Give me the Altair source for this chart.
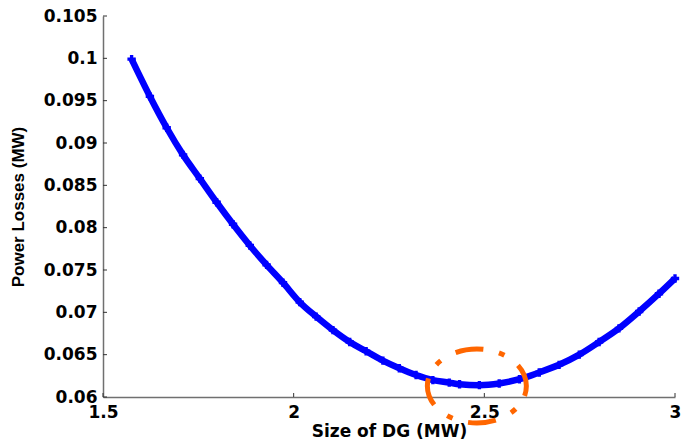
import altair as alt
import pandas as pd

# Curve
dg_size = [1.575, 1.623, 1.667, 1.710, 1.754, 1.798, 1.841, 1.885, 1.929, 1.972,
           2.016, 2.059, 2.103, 2.147, 2.190, 2.234, 2.277, 2.321, 2.365, 2.408,
           2.435, 2.487, 2.539, 2.592, 2.644, 2.696, 2.749, 2.801, 2.853, 2.906,
           2.958, 3.000]
power_loss = [0.0999, 0.0955, 0.0918, 0.0886, 0.0858, 0.0830, 0.0804, 0.0779, 0.0756, 0.0735,
              0.0712, 0.0695, 0.0679, 0.0665, 0.0654, 0.0643, 0.0634, 0.0626, 0.0620, 0.0617,
              0.0615, 0.0614, 0.0616, 0.0621, 0.0629, 0.0638, 0.0650, 0.0665, 0.0681, 0.0701,
              0.0722, 0.0740]

x_ticks = [1.5, 2.0, 2.5, 3.0]
y_ticks = [0.06, 0.065, 0.07, 0.075, 0.08, 0.085, 0.09, 0.095, 0.1, 0.105]

# Highlight ellipse around the minimum
ellipse_center_x = [2.4804]
ellipse_center_y = [0.0613]

curve = pd.DataFrame({"x": dg_size, "y": power_loss})
xt = pd.DataFrame({"t": x_ticks})
yt = pd.DataFrame({"t": y_ticks})
ell = pd.DataFrame({"x": ellipse_center_x, "y": ellipse_center_y})

W, H = 572, 381
xscale = alt.Scale(domain=[1.5, 3.0], nice=False, zero=False)
yscale = alt.Scale(domain=[0.06, 0.105], nice=False, zero=False)

xaxis = alt.Axis(values=x_ticks, labelExpr="format(datum.value, '.1~f')", title="Size of DG (MW)", grid=False,
                 tickSize=0, labelPadding=7, titlePadding=3,
                 labelFont="DejaVu Sans", labelFontWeight="bold", labelFontSize=17,
                 titleFont="DejaVu Sans", titleFontWeight="bold", titleFontSize=17,
                 labelColor="#000000", titleColor="#000000",
                 domainColor="#707070", domainWidth=1.5, labelFlush=False, labelOverlap=False)
yaxis = alt.Axis(values=y_ticks, labelExpr="format(datum.value, '.3~f')", title="Power Losses (MW)", grid=False,
                 tickSize=0, labelPadding=6, titlePadding=16,
                 labelFont="DejaVu Sans", labelFontWeight="bold", labelFontSize=17,
                 titleFont="Liberation Sans", titleFontWeight="bold", titleFontSize=17,
                 labelColor="#000000", titleColor="#000000",
                 domainColor="#707070", domainWidth=1.5, labelFlush=False, labelOverlap=False)

line = alt.Chart(curve).mark_line(color="#0000FF", strokeWidth=6.5, interpolate="monotone").encode(
    x=alt.X("x:Q", scale=xscale, axis=xaxis),
    y=alt.Y("y:Q", scale=yscale, axis=yaxis),
)
pts = alt.Chart(curve).mark_point(shape="cross", filled=True, color="#0000FF", size=70, opacity=1).encode(
    x="x:Q", y="y:Q"
)

xtick_rules = alt.Chart(xt).mark_rule(color="#333333", strokeWidth=1).encode(
    x="t:Q", y=alt.value(H), y2=alt.value(H - 4)
)
ytick_rules = alt.Chart(yt).mark_rule(color="#333333", strokeWidth=1).encode(
    y="t:Q", x=alt.value(0), x2=alt.value(4)
)

ellipse_path = ("M 1 0 C 1 0.4132 0.5523 0.747 0 0.747 C -0.5523 0.747 -1 0.4132 -1 0 "
                "C -1 -0.4132 -0.5523 -0.747 0 -0.747 C 0.5523 -0.747 1 -0.4132 1 0 Z")
ellipse = alt.Chart(ell).mark_point(
    shape=ellipse_path, size=9801, filled=False, stroke="#FF6600", strokeWidth=5,
    strokeDash=[28, 16, 6, 17], strokeDashOffset=18, opacity=1, clip=False
).encode(x="x:Q", y="y:Q")

chart = alt.layer(xtick_rules, ytick_rules, line, pts, ellipse).properties(
    width=W, height=H,
    autosize=alt.AutoSizeParams(type="none"),
    padding={"left": 103, "top": 16, "right": 6, "bottom": 46},
    background="white",
).configure_view(stroke=None)

chart.save("out.html", embed_options={"renderer": "svg", "actions": False})
